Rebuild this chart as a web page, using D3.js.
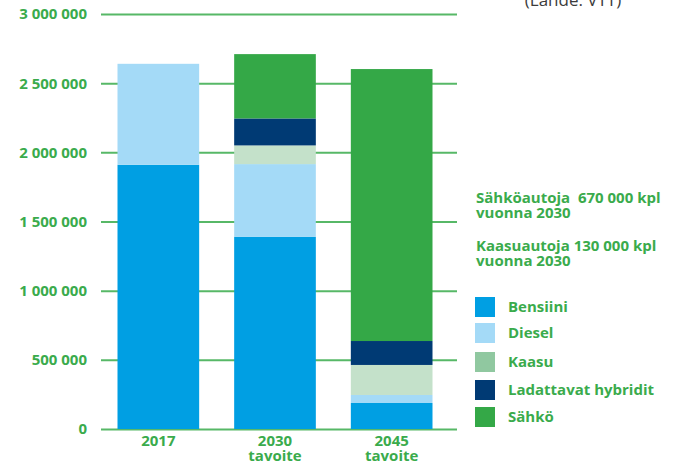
<!DOCTYPE html>
<html>
<head>
<meta charset="utf-8">
<script src="https://cdn.jsdelivr.net/npm/d3@7"></script>
<style>
  body { margin: 0; background: #fff; }
  text { font-family: "Open Sans", "Noto Sans", sans-serif; white-space: pre; }
</style>
</head>
<body>
<svg id="chart"></svg>
<script>
// Chart data
var years = ["2017", "2030", "2045"];
var yearSub = ["", "tavoite", "tavoite"];
var fuels = ["Bensiini", "Diesel", "Kaasu", "Ladattavat hybridit", "Sähkö"];
var bensiini = [1910000, 1390000, 188000];
var diesel = [730000, 525000, 58000];
var kaasu = [0, 135000, 217000];
var hybridit = [0, 195000, 173000];
var sahko = [0, 465000, 1966000];
var yTicks = [0, 500000, 1000000, 1500000, 2000000, 2500000, 3000000];
var notes = [["Sähköautoja  670 000 kpl", "vuonna 2030"], ["Kaasuautoja 130 000 kpl", "vuonna 2030"]];

var barColors = ["#009fe3", "#a4daf7", "#c4e1ca", "#003a74", "#34a847"];
var legendColors = ["#009fe3", "#a4daf7", "#90c8a0", "#003a74", "#34a847"];
var green = "#3aab4c";

var width = 678, height = 463;
var svg = d3.select("#chart").attr("width", width).attr("height", height);

// build rows for stacking
var table = years.map(function(y, i) {
    var row = { year: y };
    row[fuels[0]] = bensiini[i];
    row[fuels[1]] = diesel[i];
    row[fuels[2]] = kaasu[i];
    row[fuels[3]] = hybridit[i];
    row[fuels[4]] = sahko[i];
    return row;
});
var stacked = d3.stack().keys(fuels)(table);

var x = d3.scaleBand().domain(years).range([100, 450]).paddingInner(0.3).paddingOuter(0.15);
var y = d3.scaleLinear().domain([0, 3000000]).range([429, 14]);

var fmt = function(d) { return d3.format(",")(d).replace(/,/g, " "); };

// gridlines
svg.append("g").selectAll("line")
    .data(yTicks)
    .enter().append("line")
    .attr("x1", 101).attr("x2", 457)
    .attr("y1", function(d) { return y(d) + 0.5; })
    .attr("y2", function(d) { return y(d) + 0.5; })
    .attr("stroke", green)
    .attr("stroke-opacity", 0.85)
    .attr("stroke-width", 2);

// y tick labels
svg.append("g").selectAll("text")
    .data(yTicks)
    .enter().append("text")
    .attr("x", 87)
    .attr("y", function(d) { return y(d); })
    .attr("dy", "0.36em")
    .attr("text-anchor", "end")
    .attr("fill", green)
    .style("font-size", "15px")
    .style("font-weight", "700")
    .text(fmt);

// bars
svg.append("g").selectAll("g")
    .data(stacked)
    .enter().append("g")
    .attr("fill", function(d, i) { return barColors[i]; })
    .selectAll("rect")
    .data(function(d) { return d; })
    .enter().append("rect")
    .attr("x", function(d) { return x(d.data.year); })
    .attr("width", x.bandwidth())
    .attr("y", function(d) { return y(d[1]); })
    .attr("height", function(d) { return y(d[0]) - y(d[1]); });

// x labels (year + second line)
svg.append("g").selectAll("text")
    .data(years)
    .enter().append("text")
    .attr("x", function(d) { return x(d) + x.bandwidth() / 2; })
    .attr("y", 446)
    .attr("text-anchor", "middle")
    .attr("fill", green)
    .style("font-size", "15px")
    .style("font-weight", "700")
    .text(function(d) { return d; });
svg.append("g").selectAll("text")
    .data(years)
    .enter().append("text")
    .attr("x", function(d) { return x(d) + x.bandwidth() / 2; })
    .attr("y", 461)
    .attr("text-anchor", "middle")
    .attr("fill", green)
    .style("font-size", "15px")
    .style("font-weight", "700")
    .text(function(d, i) { return yearSub[i]; });

// source note (clipped at top)
svg.append("text")
    .attr("x", 573).attr("y", 6)
    .attr("text-anchor", "middle")
    .attr("fill", "#3c3c3c")
    .style("font-size", "17px")
    .text("(Lähde: VTT)");

// annotations
notes.forEach(function(lines, i) {
    lines.forEach(function(l, j) {
        svg.append("text")
            .attr("x", 476)
            .attr("y", 203 + i * 48 + j * 15)
            .attr("fill", green)
            .style("font-size", "15px")
            .style("font-weight", "700")
            .text(l);
    });
});

// legend
var legendY = [297, 323, 352, 380, 407];
var lg = svg.append("g").selectAll("g")
    .data(fuels)
    .enter().append("g")
    .attr("transform", function(d, i) { return "translate(475," + legendY[i] + ")"; });
lg.append("rect")
    .attr("width", 20).attr("height", 20)
    .attr("fill", function(d, i) { return legendColors[i]; });
lg.append("text")
    .attr("x", 33).attr("y", 10)
    .attr("dy", "0.36em")
    .attr("fill", green)
    .style("font-size", "15px")
    .style("font-weight", "700")
    .text(function(d) { return d; });
</script>
</body>
</html>
